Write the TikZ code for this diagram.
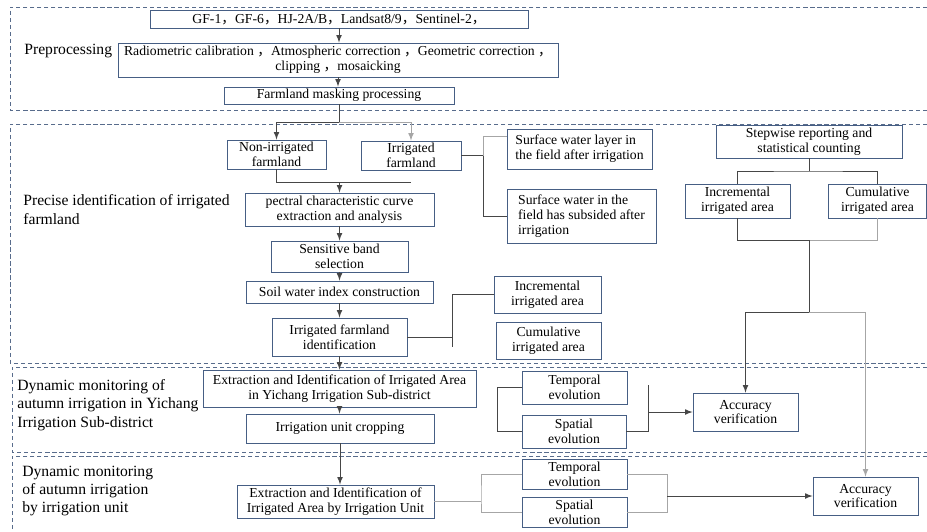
\documentclass[tikz,border=0pt]{standalone}
\usepackage{fontspec}
\setmainfont{Liberation Serif}
\newfontfamily\cjk{Noto Sans CJK SC}
\newcommand{\fwc}{{\cjk ，}}
\usetikzlibrary{arrows, positioning, calc}

\definecolor{boxblue}{RGB}{70,94,132}
\definecolor{framegray}{RGB}{88,108,140}
\definecolor{linkgray}{RGB}{70,70,70}

\begin{document}
\begin{tikzpicture}[>=latex,
  box/.style={draw=boxblue, line width=0.5pt, fill=white, rectangle, align=center,
    inner xsep=1pt, inner ysep=0.3pt, font=\fontsize{7.8}{8.4}\selectfont},
  frame/.style={draw=framegray, dash pattern=on 2.4pt off 1.6pt, line width=0.55pt},
  seclabel/.style={anchor=west, align=left, inner sep=0pt, font=\fontsize{8.9}{10.4}\selectfont},
  link/.style={draw=linkgray, line width=0.5pt},
  faint/.style={draw=black!35, line width=0.5pt}]
  \useasboundingbox (0,0) rectangle (18.54,-10.62);

  % dashed stages
  \draw[frame] (18.54,-0.14) -| (0.20,-2.20) -- (18.54,-2.20);
  \draw[frame] (18.54,-2.48) -| (0.20,-7.26) -- (18.54,-7.26);
  \draw[frame] (18.54,-7.34) -| (0.24,-9.04) -- (18.54,-9.04);
  \draw[frame] (18.54,-9.12) -| (0.24,-10.62);

  \node[seclabel] (lpre) at (0.48,-1.02) {Preprocessing};
  \node[seclabel] (lprecise) at (0.46,-4.19) {Precise identification of irrigated\\farmland};
  \node[seclabel] (lyichang) at (0.34,-8.10) {Dynamic monitoring of\\autumn irrigation in Yichang\\Irrigation Sub-district};
  \node[seclabel] (lunit) at (0.44,-9.82) {Dynamic monitoring\\of autumn irrigation\\by irrigation unit};

  % Preprocessing
  \node[box, minimum width=7.56cm, minimum height=0.36cm] (gf) at (6.78,-0.38) {GF-1\fwc GF-6\fwc HJ-2A/B\fwc Landsat8/9\fwc Sentinel-2\fwc};
  \node[box, minimum width=8.80cm, minimum height=0.68cm] (radio) at (6.76,-1.20) {Radiometric calibration \fwc Atmospheric correction \fwc Geometric correction \fwc\\clipping \fwc mosaicking};
  \node[box, minimum width=4.60cm, minimum height=0.34cm] (mask) at (6.78,-1.91) {Farmland masking processing};

  % Precise identification
  \node[box, minimum width=1.98cm, minimum height=0.58cm] (nonirr) at (5.53,-3.09) {Non-irrigated\\farmland};
  \node[box, minimum width=2.00cm, minimum height=0.58cm] (irr) at (8.22,-3.11) {Irrigated\\farmland};
  \node[box, align=left, minimum width=2.90cm, minimum height=0.80cm] (layer) at (11.59,-2.98) {Surface water layer in\\the field after irrigation};
  \node[box, align=left, minimum width=2.98cm, minimum height=1.08cm] (subsid) at (11.63,-4.32) {Surface water in the\\field has subsided after\\irrigation};
  \node[box, minimum width=3.78cm, minimum height=0.66cm] (spectral) at (6.79,-4.19) {pectral characteristic curve\\extraction and analysis};
  \node[box, minimum width=2.74cm, minimum height=0.62cm] (band) at (6.79,-5.13) {Sensitive band\\selection};
  \node[box, minimum width=3.74cm, minimum height=0.44cm] (swi) at (6.79,-5.84) {Soil water index construction};
  \node[box, minimum width=2.70cm, minimum height=0.76cm] (ident) at (6.79,-6.74) {Irrigated farmland\\identification};
  \node[box, minimum width=2.14cm, minimum height=0.74cm] (incmid) at (10.95,-5.89) {Incremental\\irrigated area};
  \node[box, minimum width=2.10cm, minimum height=0.74cm] (cummid) at (10.97,-6.81) {Cumulative\\irrigated area};
  \node[box, minimum width=3.72cm, minimum height=0.66cm] (step) at (16.18,-2.83) {Stepwise reporting and\\statistical counting};
  \node[box, minimum width=2.10cm, minimum height=0.68cm] (incright) at (14.75,-4.02) {Incremental\\irrigated area};
  \node[box, minimum width=1.96cm, minimum height=0.68cm] (cumright) at (17.55,-4.02) {Cumulative\\irrigated area};

  % Yichang sub-district
  \node[box, minimum width=5.46cm, minimum height=0.74cm] (extY) at (6.79,-7.77) {Extraction and Identification of Irrigated Area\\in Yichang Irrigation Sub-district};
  \node[box, minimum width=3.76cm, minimum height=0.58cm] (crop) at (6.80,-8.57) {Irrigation unit cropping};
  \node[box, minimum width=2.10cm, minimum height=0.66cm] (tempA) at (11.49,-7.75) {Temporal\\evolution};
  \node[box, minimum width=2.08cm, minimum height=0.66cm] (spatA) at (11.48,-8.63) {Spatial\\evolution};
  \node[box, minimum width=2.10cm, minimum height=0.76cm] (accA) at (14.91,-8.24) {Accuracy\\verification};

  % irrigation unit
  \node[box, minimum width=3.94cm, minimum height=0.66cm] (extU) at (6.71,-10.03) {Extraction and Identification of\\Irrigated Area by Irrigation Unit};
  \node[box, minimum width=2.10cm, minimum height=0.60cm] (tempB) at (11.49,-9.48) {Temporal\\evolution};
  \node[box, minimum width=2.10cm, minimum height=0.60cm] (spatB) at (11.49,-10.24) {Spatial\\evolution};
  \node[box, minimum width=2.10cm, minimum height=0.76cm] (accB) at (17.31,-9.92) {Accuracy\\verification};

  % links
  \draw[link, ->] (gf.south) -- (gf.south |- radio.north);
  \draw[link, ->] (radio.south) -- (radio.south |- mask.north);
  \coordinate (split) at (6.78,-2.44);
  \draw[link] (mask.south) -- (split);
  \draw[link, ->] (split) -| (nonirr.north);
  \draw[faint, ->] (split) -| (irr.north);

  \coordinate (b1) at (9.66,-3.11);
  \draw[link] (irr.east) -- (b1);
  \draw[faint] (layer.170) -| (b1);
  \draw[link] (subsid.west) -| (b1);

  \coordinate (merge) at (6.79,-3.64);
  \draw[link] (nonirr.south) |- (irr.south |- merge);
  \draw[link, ->] (merge) -- (spectral.north);
  \draw[link, ->] (spectral.south) -- (band.north);
  \draw[link, ->] (band.south) -- (swi.north);
  \draw[link, ->] (swi.south) -- (ident.north);

  \coordinate (b2) at (9.04,-6.94);
  \draw[link] (ident.east) -- (ident.east -| b2);
  \draw[link] (incmid.west) -| (b2);

  \coordinate (top) at (16.18,-3.42);
  \draw[link] (step.south) -- (top);
  \draw[link] (incright.north) |- (top) -| (cumright.north);
  \coordinate (mid) at (16.18,-4.80);
  \coordinate (low) at (16.18,-6.24);
  \draw[link] (incright.south) |- (mid);
  \draw[faint] (mid) -| (cumright.south);
  \draw[link] (mid) -- (low);
  \draw[link, ->] (low) -| (accA.north);
  \draw[faint, ->] (low) -| (accB.north);

  \draw[link, ->] (ident.south) -- (extY.north);
  \draw[link, ->] (extY.south) -- (extY.south |- crop.north);
  \draw[link, ->] (crop.south) -- (crop.south |- extU.north);

  \coordinate (b3) at (9.94,-7.66);
  \draw[link] (tempA.west) -| (b3 |- spatA.west) -- (spatA.west);
  \coordinate (b4) at (12.96,-7.70);
  \draw[link] (spatA.east) -| (b4);
  \draw[link, ->] (b4 |- accA.west) -- (accA.west);

  \coordinate (b5) at (9.62,-9.92);
  \draw[faint] (extU.east) -- (extU.east -| b5);
  \draw[faint] (tempB.west) -| (b5) |- (spatB.west);
  \coordinate (b6) at (13.34,-9.92);
  \draw[faint] (tempB.east) -| (b6) |- (spatB.east);
  \draw[link, ->] (b6) -- (accB.west);
\end{tikzpicture}
\end{document}
